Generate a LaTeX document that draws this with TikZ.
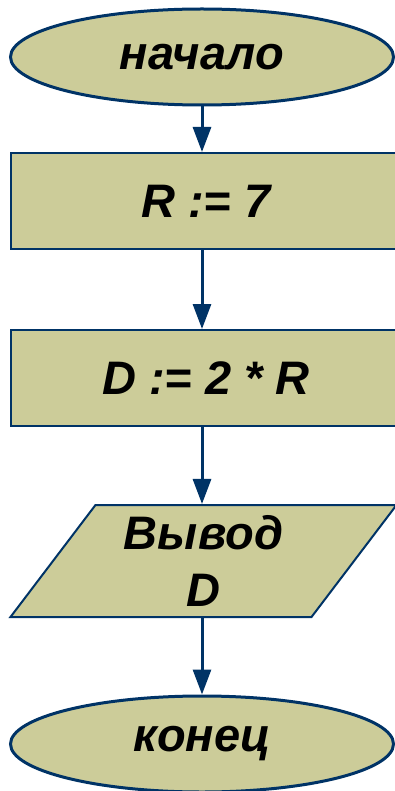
\documentclass[tikz,border=0pt]{standalone}
\usepackage{fontspec}
\setmainfont{Liberation Sans}
\usetikzlibrary{shapes.geometric,arrows.meta}
\definecolor{boxfill}{HTML}{CCCC99}
\definecolor{boxline}{HTML}{003366}
\tikzset{
  lbl/.style={font=\fontsize{47}{57}\selectfont\bfseries\itshape, text=black, inner sep=0pt, align=center},
  term/.style={lbl, ellipse, draw=boxline, fill=boxfill, line width=3pt, minimum width=383pt, minimum height=96pt},
  proc/.style={lbl, rectangle, draw=boxline, fill=boxfill, line width=2pt, minimum width=390pt, minimum height=96pt},
  io/.style={lbl, trapezium, trapezium stretches=true, trapezium left angle=55.5, trapezium right angle=124.5,
     draw=boxline, fill=boxfill, line width=2pt, minimum width=387pt, minimum height=112pt},
  flow/.style={draw=boxline, line width=3pt, -{Triangle[width=18pt,length=25pt]}}
}
\begin{document}
\begin{tikzpicture}[x=1pt,y=-1pt]
\useasboundingbox (0,0) rectangle (394,791);
\node[term] (start) at (202,57) {начало};
\node[proc] (r) at (206,201) {R := 7};
\node[proc] (d) at (206,378) {D := 2 * R};
\node[io] (out) at (203.5,561) {Вывод\\D};
\node[term] (end) at (202,744) {конец};
\draw[flow] (start) -- (r.north -| 202,0);
\draw[flow] (r.south -| 202,0) -- (d.north -| 202,0);
\draw[flow] (d.south -| 202,0) -- (out.north -| 202,0);
\draw[flow] (out.south -| 202,0) -- (end);
\end{tikzpicture}
\end{document}
